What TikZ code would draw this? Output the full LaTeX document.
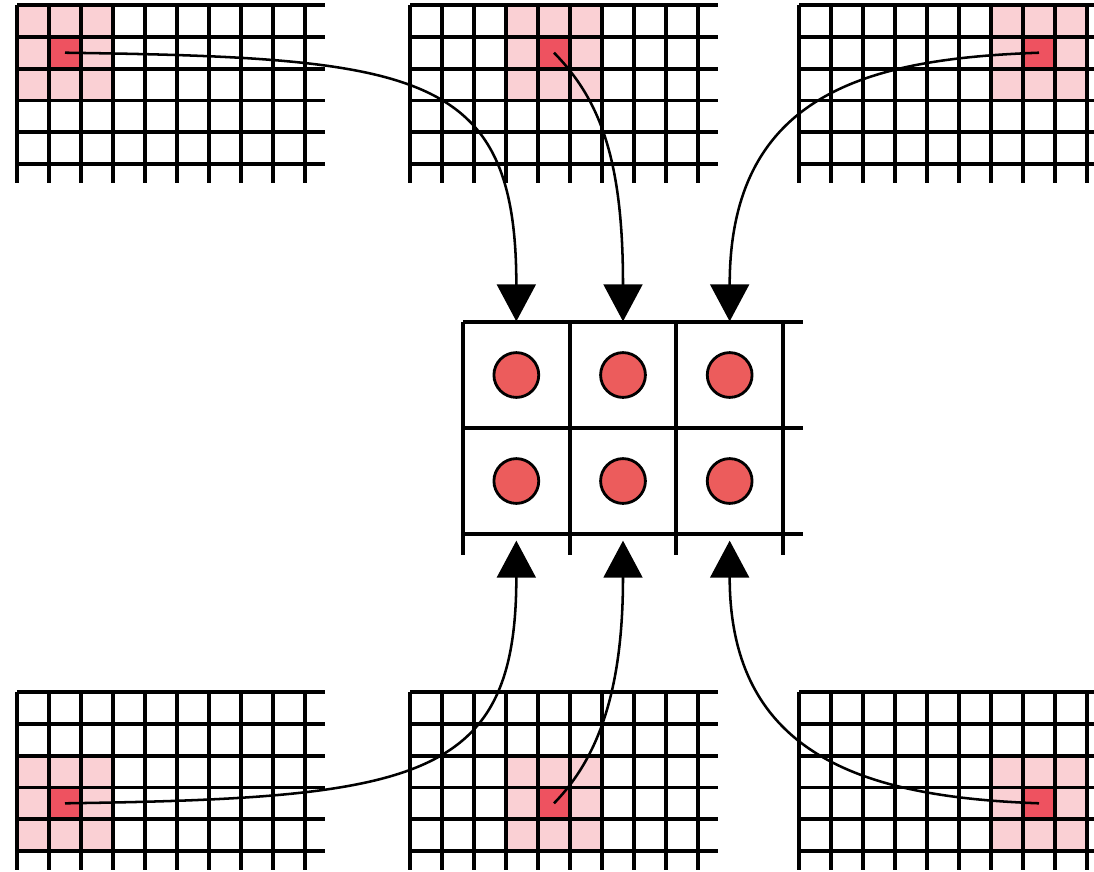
\documentclass[tikz,border=0pt]{standalone}
\usepackage{tikz}
\usetikzlibrary{arrows.meta}
\definecolor{cellpink}{RGB}{250,208,212}
\definecolor{cellred}{RGB}{238,82,96}
\definecolor{dotred}{RGB}{236,92,92}
\tikzstyle{gridline}=[draw,line width=2.7pt]
\tikzstyle{link}=[draw,line width=1.8pt,-{Triangle[length=0.925cm,width=0.97cm]}]
\tikzstyle{dotnode}=[circle,draw,line width=2pt,fill=dotred,minimum size=1.12cm,inner sep=0pt]
\tikzstyle{cellbox}=[rectangle,minimum size=2.667cm,inner sep=0pt]

\begin{document}
\begin{tikzpicture}[x=0.025cm,y=-0.025cm]
    \useasboundingbox (0,0) rectangle (1094,871);
    % First we draw the six input grids
    \foreach \gx/\gy/\pc/\pr/\name in {17/5/0/0/tl, 410/5/3/0/tc, 799/5/6/0/tr, 17/692/0/2/bl, 410/692/3/2/bc, 799/692/6/2/br} {
        \fill[cellpink] ({\gx+\pc*32},{\gy+\pr*31.8}) rectangle +(96,95.4);
        \fill[cellred] ({\gx+(\pc+1)*32},{\gy+(\pr+1)*31.8}) rectangle +(32,31.8);
        \coordinate (\name) at ({\gx+(\pc+1.5)*32},{\gy+(\pr+1.5)*31.8});
        \foreach \i in {0,...,9}
            \path[gridline] ({\gx+\i*32},\gy) -- +(0,178);
        \foreach \j in {0,...,5}
            \path[gridline] (\gx,{\gy+\j*31.8}) -- +(308,0);
    }
    % The output grid in the middle
    \foreach \i in {0,...,3}
        \path[gridline] ({463+\i*106.67},322) -- +(0,233);
    \foreach \j in {0,1,2}
        \path[gridline] (463,{322+\j*106}) -- +(340,0);
    \foreach \r in {1,2}
        \foreach \c in {1,2,3} {
            \node[cellbox] (cell-\r-\c) at ({463+(\c-0.5)*106.67},{322+(\r-0.5)*106}) {};
            \node[dotnode] (dot-\r-\c) at (cell-\r-\c) {};
        }
    % Connect the marked cells with the output cells
    \path[link] (tl) .. controls +(355,5) and +(0,-250) .. (cell-1-1.north);
    \path[link] (tc) .. controls +(47,48) and +(0,-160) .. (cell-1-2.north);
    \path[link] (tr) .. controls +(-168,6) and +(0,-230) .. (cell-1-3.north);
    \path[link,shorten >=0.15cm] (bl) .. controls +(355,-5) and +(0,245) .. (cell-2-1.south);
    \path[link,shorten >=0.15cm] (bc) .. controls +(47,-48) and +(0,150) .. (cell-2-2.south);
    \path[link,shorten >=0.15cm] (br) .. controls +(-168,-6) and +(0,225) .. (cell-2-3.south);
\end{tikzpicture}
\end{document}
